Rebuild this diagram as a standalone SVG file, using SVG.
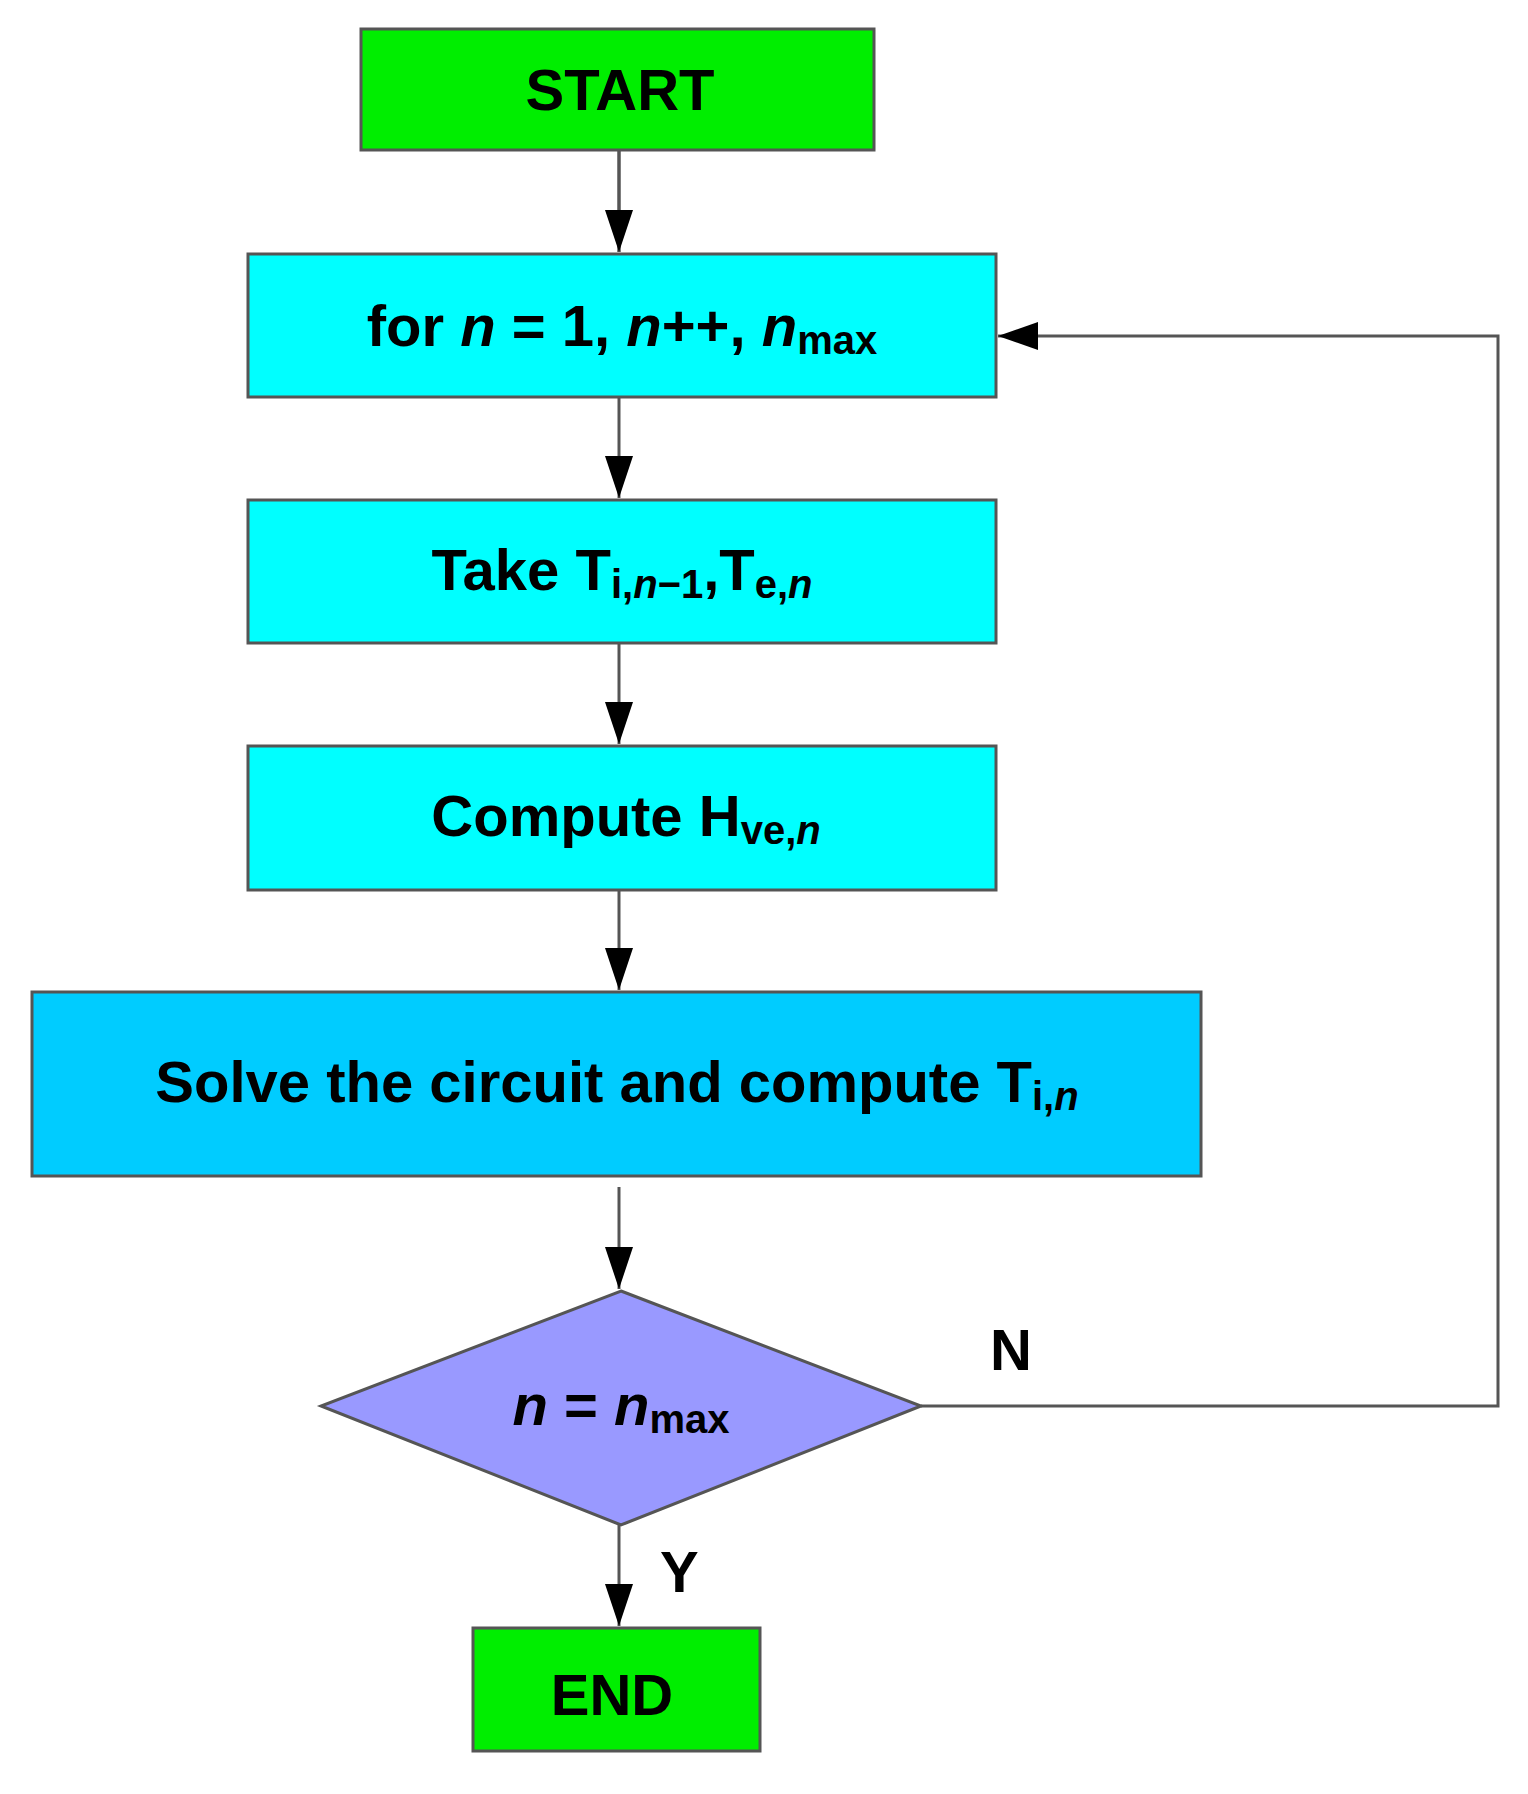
<svg xmlns="http://www.w3.org/2000/svg" width="1528" height="1794" viewBox="0 0 1528 1794">
<style>
.b{stroke:#555;stroke-width:3}
.t{font-family:"Liberation Sans",Arial,sans-serif;font-weight:bold;font-size:58px;fill:#000}
.s{font-size:40px}
.c{fill:none;stroke:#555;stroke-width:3}
</style>
<defs><marker id="a" markerWidth="10" markerHeight="10" refX="9" refY="5" orient="auto" markerUnits="userSpaceOnUse" viewBox="0 0 10 10"><path d="M0,0L10,5L0,10z" fill="#000"/></marker></defs>
<rect width="1528" height="1794" fill="#fff"/>
<g id="connectors">
<line class="c" x1="619" y1="150" x2="619" y2="252" marker-end="url(#a)" style="marker-end:none"/>
<path class="c" d="M619,150V252"/>
<path d="M605,210L619,252L633,210z"/>
<path class="c" d="M619,397V498"/><path d="M605,456L619,498L633,456z"/>
<path class="c" d="M619,643V744"/><path d="M605,702L619,744L633,702z"/>
<path class="c" d="M619,890V990"/><path d="M605,948L619,990L633,948z"/>
<path class="c" d="M619,1187V1289"/><path d="M605,1247L619,1289L633,1247z"/>
<path class="c" d="M619,1525V1626"/><path d="M605,1584L619,1626L633,1584z"/>
<path class="c" d="M921,1406H1498V336H998"/><path d="M998,336L1038,322L1038,350z"/>
</g>
<g id="start"><rect class="b" x="361" y="29" width="513" height="121" fill="#00ee00"/><text class="t" x="620" y="110" text-anchor="middle">START</text></g>
<g id="loop"><rect class="b" x="248" y="254" width="748" height="143" fill="#00ffff"/><text class="t" x="622" y="346" text-anchor="middle">for <tspan font-style="italic">n</tspan> = 1, <tspan font-style="italic">n</tspan>++, <tspan font-style="italic">n</tspan><tspan class="s" dy="8">max</tspan></text></g>
<g id="take"><rect class="b" x="248" y="500" width="748" height="143" fill="#00ffff"/><text class="t" x="622" y="590" text-anchor="middle">Take T<tspan class="s" dy="8">i,<tspan font-style="italic">n</tspan>−1</tspan><tspan dy="-8">,T</tspan><tspan class="s" dy="8">e,<tspan font-style="italic">n</tspan></tspan></text></g>
<g id="compute"><rect class="b" x="248" y="746" width="748" height="144" fill="#00ffff"/><text class="t" x="626" y="836" text-anchor="middle">Compute H<tspan class="s" dy="8">ve,<tspan font-style="italic">n</tspan></tspan></text></g>
<g id="solve"><rect class="b" x="32" y="992" width="1169" height="184" fill="#00ccff"/><text class="t" x="617" y="1102" text-anchor="middle">Solve the circuit and compute T<tspan class="s" dy="8">i,<tspan font-style="italic">n</tspan></tspan></text></g>
<g id="check"><polygon class="b" points="621,1291 921,1406 621,1525 321,1406" fill="#9999ff"/><text class="t" x="621" y="1425" text-anchor="middle"><tspan font-style="italic">n</tspan> = <tspan font-style="italic">n</tspan><tspan class="s" dy="8">max</tspan></text></g>
<g id="end"><rect class="b" x="473" y="1628" width="287" height="123" fill="#00ee00"/><text class="t" x="612" y="1715" text-anchor="middle">END</text></g>
<text class="t" x="990" y="1370">N</text>
<text class="t" x="660" y="1592">Y</text>
</svg>
